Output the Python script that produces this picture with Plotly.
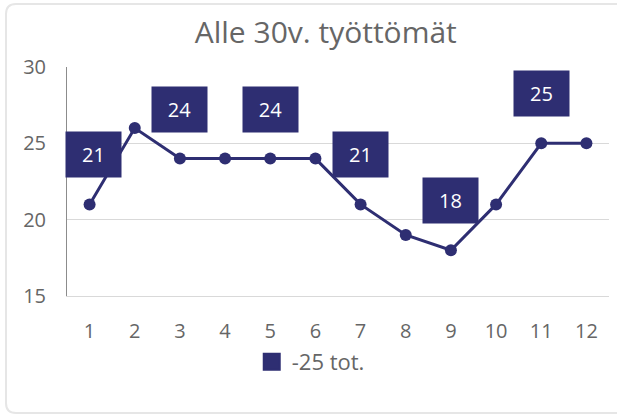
import plotly.graph_objects as go

# ---- data ----
categories = [1, 2, 3, 4, 5, 6, 7, 8, 9, 10, 11, 12]
values = [21, 26, 24, 24, 24, 24, 21, 19, 18, 21, 25, 25]
label_points = [1, 3, 5, 7, 9, 11]
series_name = "-25 tot."
title_text = "Alle 30v. työttömät"
y_ticks = [15, 20, 25, 30]

NAVY = "#2e2e72"
GRAY_TXT = "#666666"
FONT = "Open Sans"

fig = go.Figure()

fig.add_trace(go.Scatter(
    x=categories, y=values, mode="lines+markers",
    line=dict(color=NAVY, width=3),
    marker=dict(color=NAVY, size=12),
    showlegend=False, hoverinfo="x+y",
))

# legend entry (square symbol)
fig.add_trace(go.Scatter(
    x=[None], y=[None], mode="markers", name=series_name,
    marker=dict(color=NAVY, symbol="square", size=16,
                line=dict(color=NAVY, width=2)),
    showlegend=True,
))

# data labels (boxes kept inside the plot area on the left edge)
val_by_cat = dict(zip(categories, values))
for c in label_points:
    v = val_by_cat[c]
    fig.add_annotation(
        x=c, y=v, xref="x", yref="y", text=str(v), showarrow=False,
        yanchor="bottom", yshift=26, xshift=4 if c == categories[0] else 0,
        bgcolor=NAVY, font=dict(color="white", size=20, family=FONT),
        width=47, height=37, borderpad=4,
    )

# card outline, open on the right (pixel coordinates relative to plot-area bottom-left)
fig.add_shape(
    type="path", xref="paper", yref="paper",
    xsizemode="pixel", ysizemode="pixel", xanchor=0, yanchor=0,
    path="M 560,-117 L -51,-117 Q -61,-117 -61,-107 L -61,282 "
         "Q -61,292 -51,292 L 560,292",
    line=dict(color="#e6e6e6", width=2), fillcolor="rgba(0,0,0,0)",
    layer="below",
)

fig.update_layout(
    width=617, height=414,
    margin=dict(l=67, r=8, t=67, b=118, autoexpand=False),
    paper_bgcolor="white", plot_bgcolor="white",
    font=dict(family=FONT, color=GRAY_TXT),
    title=dict(text=title_text, x=0.528, xanchor="center", y=0.922, yanchor="middle",
               font=dict(size=30, color=GRAY_TXT, family=FONT)),
    legend=dict(orientation="h", xref="container", yref="container",
                x=0.408, xanchor="left", y=0.126, yanchor="middle",
                font=dict(size=22, color=GRAY_TXT, family=FONT),
                bgcolor="rgba(0,0,0,0)"),
    showlegend=True,
)

fig.update_xaxes(
    range=[0.5, 12.5], tickvals=categories, showgrid=False, automargin=False,
    showline=True, linecolor="#d9d9d9", linewidth=1, zeroline=False,
    ticks="", ticklabelstandoff=17, tickfont=dict(size=20, color=GRAY_TXT),
    fixedrange=True,
)
fig.update_yaxes(
    range=[15, 30], tickvals=y_ticks, showgrid=True, gridcolor="#d9d9d9", gridwidth=1,
    showline=True, linecolor="#8c8c8c", linewidth=1, zeroline=False, automargin=False,
    ticks="", ticklabelstandoff=16, tickfont=dict(size=20, color=GRAY_TXT),
    fixedrange=True,
)

fig.write_html(
    "out.html",
    config={"displayModeBar": False},
    post_script="document.body.style.margin='0';document.body.style.overflow='hidden';",
)
